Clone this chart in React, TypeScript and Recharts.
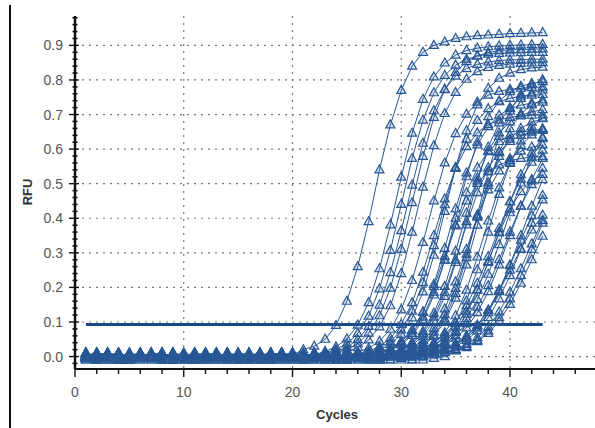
import { LineChart, Line, XAxis, YAxis, CartesianGrid } from 'recharts';

// amplification run: RFU per cycle, one array per well (cycle 1..43)
const CYCLES = [
  1, 2, 3, 4, 5, 6, 7, 8, 9, 10, 11, 12, 13, 14, 15, 16, 17, 18, 19, 20, 21, 22,
  23, 24, 25, 26, 27, 28, 29, 30, 31, 32, 33, 34, 35, 36, 37, 38, 39, 40, 41, 42, 43,
];

const THRESHOLD = 0.093;

const W1 = [0, -0.01, 0.005, 0, -0.005, 0.01, 0, -0.01, 0.005, 0, 0.01, -0.005, 0, 0.005, -0.01, 0, 0.01, 0, -0.005, 0.005,
  0.02, 0.03, 0.05, 0.09, 0.16, 0.26, 0.39, 0.54, 0.67, 0.77, 0.84, 0.88, 0.9, 0.91, 0.92, 0.925, 0.928, 0.93, 0.932, 0.934, 0.935, 0.936, 0.937];
const W2 = [-0.005, 0.005, 0, -0.01, 0.01, 0, -0.005, 0.005, -0.01, 0, 0.01, 0, -0.005, 0.005, 0, -0.01, 0.005, 0, 0.01, -0.005, 0, 0.005,
  0.015, 0.028, 0.051, 0.091, 0.156, 0.254, 0.381, 0.519, 0.646, 0.744, 0.809, 0.849, 0.872, 0.885, 0.892, 0.896, 0.898, 0.9, 0.901, 0.902, 0.903];
const W3 = [0.005, 0, -0.01, 0.005, 0, 0.01, -0.005, 0, 0.005, -0.01, 0, 0.01, -0.005, 0.005, 0, -0.01, 0, 0.005, -0.005, 0.01, 0, -0.01, 0.005,
  0.011, 0.02, 0.037, 0.067, 0.117, 0.196, 0.307, 0.44, 0.573, 0.684, 0.763, 0.813, 0.843, 0.86, 0.869, 0.875, 0.877, 0.878, 0.879, 0.88, 0.88];
const W4 = [-0.01, 0, 0.005, 0.01, -0.005, 0, 0.005, -0.01, 0, 0.01, 0, -0.005, 0.005, -0.01, 0.01, 0, -0.005, 0, 0.005, -0.01, 0.005, 0, 0.01,
  0.015, 0.027, 0.049, 0.087, 0.149, 0.243, 0.364, 0.496, 0.617, 0.711, 0.773, 0.811, 0.833, 0.845, 0.852, 0.856, 0.858, 0.859, 0.86, 0.86];
const W5 = [0, 0.005, -0.005, 0, 0.01, -0.01, 0.005, 0, -0.005, 0.01, 0, -0.01, 0.005, 0, 0.01, -0.005, 0, -0.01, 0.005, 0.01, 0, -0.005, 0.005, 0,
  0.011, 0.02, 0.037, 0.068, 0.118, 0.198, 0.311, 0.445, 0.579, 0.692, 0.772, 0.822, 0.853, 0.87, 0.879, 0.885, 0.887, 0.888, 0.889, 0.89];
const W6 = [0.01, -0.005, 0, 0.005, -0.01, 0, 0.01, -0.005, 0.005, 0, -0.01, 0.005, 0, 0.01, -0.005, 0, 0.005, -0.01, 0, 0.01, -0.005, 0.005, 0, -0.01,
  0.014, 0.026, 0.048, 0.086, 0.147, 0.24, 0.36, 0.49, 0.61, 0.703, 0.764, 0.802, 0.824, 0.836, 0.842, 0.846, 0.848, 0.849, 0.85];
const W7 = [-0.005, 0.01, 0, -0.01, 0.005, 0, -0.005, 0.01, 0, 0.005, -0.01, 0, 0.005, -0.005, 0.01, 0, -0.01, 0.005, 0, -0.005, 0.01, 0, 0.005, -0.01, 0,
  0.013, 0.024, 0.044, 0.079, 0.135, 0.22, 0.33, 0.45, 0.56, 0.645, 0.701, 0.736, 0.756, 0.767, 0.773, 0.776, 0.778, 0.78];
const W8 = [0, -0.005, 0.01, 0, -0.01, 0.005, 0, 0.01, -0.005, 0, 0.005, -0.01, 0.01, 0, -0.005, 0.005, 0, -0.01, 0.01, 0, 0.005, -0.005, 0, 0.01, -0.01, 0.005,
  0.013, 0.024, 0.043, 0.077, 0.131, 0.214, 0.321, 0.439, 0.546, 0.629, 0.683, 0.717, 0.737, 0.747, 0.753, 0.756, 0.758];
const W9 = [0.005, 0, -0.01, 0.01, 0, -0.005, 0.005, 0, -0.01, 0.01, -0.005, 0, 0.005, 0, -0.01, 0.005, 0.01, 0, -0.005, 0, 0.01, -0.01, 0.005, 0, -0.005, 0.01, 0,
  0.01, 0.019, 0.035, 0.064, 0.112, 0.187, 0.293, 0.42, 0.547, 0.653, 0.728, 0.776, 0.805, 0.82, 0.83, 0.835, 0.837];
const W10 = [-0.01, 0.005, 0, 0.01, -0.005, 0, 0.005, -0.01, 0, 0.01, 0, -0.005, 0.005, -0.01, 0, 0.01, -0.005, 0.005, 0, -0.01, 0.01, 0, -0.005, 0.005, 0, -0.01, 0.005, 0.01,
  0.013, 0.023, 0.042, 0.075, 0.128, 0.209, 0.313, 0.427, 0.531, 0.612, 0.665, 0.698, 0.717, 0.727, 0.733, 0.736];
const W11 = [0, 0.01, -0.005, 0, 0.005, -0.01, 0.01, 0, -0.005, 0.005, 0, -0.01, 0, 0.01, -0.005, 0.005, 0, -0.01, 0.005, 0.01, 0, -0.005, 0, 0.005, -0.01, 0.01, 0, -0.005, 0.005,
  0.01, 0.018, 0.034, 0.061, 0.106, 0.178, 0.279, 0.4, 0.52, 0.62, 0.694, 0.739, 0.766, 0.782, 0.79, 0.795];
const W12 = [0.005, -0.005, 0, 0.01, -0.01, 0, 0.005, 0, -0.005, 0.01, 0, -0.01, 0.005, 0, 0.01, -0.005, 0, 0.005, -0.01, 0, 0.01, 0.005, -0.005, 0, -0.01, 0.005, 0.01, 0, -0.005,
  0.012, 0.022, 0.041, 0.073, 0.125, 0.203, 0.305, 0.415, 0.517, 0.595, 0.647, 0.679, 0.698, 0.708, 0.714];
const W13 = [-0.005, 0, 0.01, -0.01, 0.005, 0, -0.005, 0.01, 0, 0.005, -0.01, 0, 0.01, -0.005, 0, 0.005, -0.01, 0.01, 0, -0.005, 0.005, 0, -0.01, 0.01, 0, 0.005, -0.005, 0, 0.01, -0.01,
  0.009, 0.018, 0.033, 0.059, 0.104, 0.174, 0.272, 0.39, 0.508, 0.606, 0.676, 0.72, 0.747, 0.762, 0.771];
const W14 = [0.01, 0, -0.005, 0.005, 0, -0.01, 0.01, -0.005, 0, 0.005, 0, -0.01, 0.005, 0.01, -0.005, 0, -0.01, 0.005, 0, 0.01, -0.005, 0.005, 0, -0.01, 0.01, 0, -0.005, 0.005, 0, -0.01,
  0.012, 0.022, 0.04, 0.071, 0.121, 0.197, 0.296, 0.404, 0.503, 0.579, 0.629, 0.66, 0.678, 0.688];
const W15 = [0, -0.01, 0.005, 0.01, 0, -0.005, 0, 0.005, -0.01, 0.01, 0, -0.005, 0.005, 0, -0.01, 0.01, 0.005, -0.005, 0, 0.01, -0.01, 0, 0.005, -0.005, 0.01, 0, -0.01, 0.005, 0, -0.005, 0.01,
  0.009, 0.017, 0.032, 0.058, 0.101, 0.169, 0.265, 0.38, 0.495, 0.59, 0.659, 0.702, 0.728, 0.742];
const W16 = [0.005, 0.01, -0.01, 0, 0.005, -0.005, 0.01, 0, -0.01, 0.005, 0, 0.01, -0.005, 0, 0.005, -0.01, 0, 0.01, -0.005, 0.005, 0, -0.01, 0.01, 0, -0.005, 0.005, 0, -0.01, 0.01, 0.005, 0,
  0.012, 0.021, 0.039, 0.069, 0.118, 0.192, 0.288, 0.392, 0.488, 0.562, 0.611, 0.641, 0.659];
const W17 = [-0.01, 0, 0.005, -0.005, 0.01, 0, -0.01, 0.005, 0, 0.01, -0.005, 0, 0.005, -0.01, 0.01, 0, -0.005, 0.005, 0, -0.01, 0.01, 0.005, 0, -0.005, 0, 0.01, -0.01, 0.005, 0, -0.005, 0.01, 0,
  0.009, 0.017, 0.03, 0.055, 0.096, 0.161, 0.251, 0.36, 0.469, 0.559, 0.624, 0.665, 0.69];
const W18 = [0, 0.005, 0.01, -0.01, 0, -0.005, 0.005, 0.01, 0, -0.01, 0.005, -0.005, 0, 0.01, 0, -0.01, 0.005, 0, 0.01, -0.005, 0, 0.005, -0.01, 0.01, 0, -0.005, 0.005, 0, -0.01, 0.01, 0, 0.005,
  0.015, 0.024, 0.04, 0.063, 0.098, 0.147, 0.212, 0.289, 0.371, 0.448, 0.513, 0.562, 0.597];
const W19 = [0.01, -0.005, 0, 0.005, -0.01, 0.01, 0, -0.005, 0.005, 0, -0.01, 0.01, 0.005, 0, -0.005, 0, 0.01, -0.01, 0.005, 0, -0.005, 0.01, 0, -0.01, 0.005, 0, 0.01, -0.005, 0, 0.005, -0.01, 0.01, 0,
  0.013, 0.021, 0.034, 0.055, 0.086, 0.131, 0.194, 0.272, 0.36, 0.448, 0.526, 0.589, 0.634];
const W20 = [-0.005, 0.005, 0, -0.01, 0.01, 0, 0.005, -0.005, 0, 0.01, -0.01, 0, 0.005, 0.01, -0.005, 0, -0.01, 0.005, 0, 0.01, -0.005, 0.005, -0.01, 0, 0.01, 0, -0.005, 0.005, 0.01, -0.01, 0, 0.005, 0,
  0.015, 0.024, 0.038, 0.061, 0.095, 0.143, 0.205, 0.28, 0.36, 0.435, 0.497, 0.545];
const W21 = [0, 0.01, -0.01, 0.005, 0, -0.005, 0.01, 0, -0.01, 0.005, 0.01, -0.005, 0, 0.005, -0.01, 0, 0.01, 0, -0.005, 0.005, -0.01, 0.01, 0, 0.005, -0.005, 0, 0.01, -0.01, 0.005, 0, -0.005, 0.01, 0, 0.005,
  0.013, 0.02, 0.033, 0.053, 0.083, 0.127, 0.188, 0.265, 0.35, 0.435, 0.512, 0.573];
const W22 = [0.005, -0.01, 0, 0.01, -0.005, 0.005, 0, -0.01, 0.01, 0, -0.005, 0.005, 0, 0.01, -0.01, 0.005, 0, -0.005, 0.01, 0, -0.01, 0.005, 0, 0.01, -0.005, 0, 0.005, -0.01, 0.01, 0, 0.005, -0.005, 0.01, 0,
  0.014, 0.022, 0.036, 0.057, 0.089, 0.134, 0.193, 0.263, 0.337, 0.407, 0.466];
const W23 = [-0.01, 0.005, 0.01, 0, -0.005, 0, 0.01, -0.01, 0.005, 0, -0.005, 0.01, 0, 0.005, -0.01, 0, 0.01, -0.005, 0.005, 0, -0.01, 0.01, 0, -0.005, 0.005, 0.01, 0, -0.01, 0, 0.005, -0.005, 0.01, 0, -0.01, 0.005,
  0.011, 0.018, 0.029, 0.047, 0.074, 0.113, 0.167, 0.234, 0.31, 0.386, 0.453];
const W24 = [0.01, 0, -0.005, 0.005, -0.01, 0, 0.01, 0.005, -0.005, 0, -0.01, 0.01, 0, 0.005, -0.005, 0.01, -0.01, 0, 0.005, 0, -0.005, 0.01, 0, -0.01, 0.005, 0, 0.01, -0.005, 0, 0.005, -0.01, 0, 0.01,
  0.013, 0.021, 0.035, 0.055, 0.086, 0.129, 0.186, 0.254, 0.326, 0.394];
const W25 = [-0.005, 0.01, 0, -0.01, 0.005, 0, 0.01, -0.005, 0.005, -0.01, 0, 0.01, 0, -0.005, 0.005, 0, -0.01, 0.01, 0.005, 0, -0.005, 0, 0.01, -0.01, 0.005, 0, -0.005, 0.01, 0, 0.005, 0, -0.01, 0.005,
  0.011, 0.018, 0.029, 0.047, 0.074, 0.113, 0.167, 0.234, 0.31, 0.386];
const W26 = [0.005, 0, 0.01, -0.01, 0, 0.005, -0.005, 0.01, 0, -0.01, 0.005, 0, -0.005, 0.01, 0, 0.005, -0.01, 0.01, 0, -0.005, 0.005, 0, 0.01, -0.01, 0, 0.005, -0.005, 0, 0.01, -0.01, 0.005, 0, 0.01, -0.005, 0,
  0.016, 0.026, 0.043, 0.067, 0.102, 0.151, 0.212, 0.28, 0.348];
const W27 = [0, -0.005, 0.005, 0.01, -0.01, 0, 0.005, 0, -0.005, 0.01, -0.01, 0.005, 0, 0.01, 0, -0.005, 0.005, -0.01, 0, 0.01, 0.005, -0.005, 0, -0.01, 0.01, 0, 0.005, -0.005,
  0.007, 0.014, 0.026, 0.047, 0.082, 0.138, 0.216, 0.31, 0.404, 0.482, 0.537, 0.573, 0.594, 0.606, 0.612];
const W28 = [0.01, -0.01, 0.005, 0, -0.005, 0.01, 0, 0.005, -0.01, 0, 0.01, -0.005, 0.005, 0, -0.01, 0.01, 0, -0.005, 0.005, 0.01, -0.01, 0, 0.005, 0, -0.005, 0.01, -0.01, 0, 0.005, 0.01,
  0.007, 0.013, 0.023, 0.042, 0.073, 0.123, 0.192, 0.275, 0.358, 0.427, 0.477, 0.508, 0.527];
const W29 = [-0.005, 0, 0.01, 0.005, -0.01, 0, -0.005, 0.01, 0.005, 0, -0.01, 0.01, 0, -0.005, 0.005, 0, 0.01, -0.01, 0, 0.005, -0.005, 0.01, 0, -0.01, 0.005, 0, 0.01,
  0.007, 0.013, 0.024, 0.044, 0.077, 0.129, 0.202, 0.29, 0.378, 0.45, 0.501, 0.536, 0.554, 0.567, 0.573, 0.577, 0.578];
const W30 = [0, 0.005, -0.01, 0.01, 0, -0.005, 0.005, 0.01, -0.01, 0, 0.005, -0.005, 0.01, 0, -0.01, 0.005, 0, 0.01, -0.005, 0, 0.005, -0.01, 0.01, 0, -0.005, 0.005, 0, -0.01, 0.01, 0, 0.005,
  0.009, 0.015, 0.024, 0.038, 0.06, 0.091, 0.134, 0.189, 0.25, 0.311, 0.366, 0.409];
const W31 = [0.005, -0.01, 0, 0.01, -0.005, 0, 0.005, -0.01, 0.01, 0, -0.005, 0.005, 0, -0.01, 0.01, 0.005, 0, -0.005, 0.01, -0.01, 0, 0.005, -0.005, 0.01, 0,
  0.008, 0.016, 0.029, 0.053, 0.093, 0.156, 0.244, 0.35, 0.456, 0.544, 0.607, 0.647, 0.671, 0.684, 0.692, 0.696, 0.698, 0.699];
const W32 = [-0.01, 0.005, 0.01, 0, -0.005, 0.005, 0, -0.01, 0.01, -0.005, 0, 0.005, 0.01, -0.01, 0, -0.005, 0.005, 0, 0.01, -0.01, 0.005, 0, -0.005, 0.01, 0, -0.01, 0.005, 0,
  0.011, 0.02, 0.038, 0.067, 0.114, 0.186, 0.279, 0.381, 0.474, 0.546, 0.593, 0.622, 0.64, 0.649, 0.654];
const W33 = [0, 0.01, -0.005, -0.01, 0.005, 0, 0.01, -0.005, 0, 0.005, -0.01, 0.01, 0, -0.005, 0.005, -0.01, 0, 0.01, 0.005, -0.005, 0, -0.01, 0.01, 0.005, 0, -0.005, 0.01, -0.01, 0,
  0.01, 0.019, 0.034, 0.062, 0.109, 0.183, 0.286, 0.41, 0.534, 0.637, 0.71, 0.758, 0.786, 0.801];
const W34 = [0.01, 0, -0.01, 0.005, -0.005, 0.01, 0, 0.005, -0.01, 0, 0.01, -0.005, 0.005, 0, -0.01, 0.005, 0.01, -0.005, 0, 0.005, -0.01, 0.01, 0, -0.005, 0.005, 0, -0.01, 0.01, 0.005, -0.005, 0,
  0.017, 0.027, 0.044, 0.07, 0.11, 0.165, 0.238, 0.324, 0.416, 0.502, 0.575, 0.63];
const W35 = [-0.005, 0.005, 0.01, -0.01, 0, 0.005, -0.005, 0.01, 0, -0.01, 0.005, 0, 0.01, -0.005, 0.005, -0.01, 0, 0.01, 0, -0.005, 0.005, -0.01, 0.01, 0, -0.005, 0.005, 0,
  0.011, 0.02, 0.038, 0.067, 0.114, 0.186, 0.279, 0.381, 0.474, 0.546, 0.593, 0.622, 0.64, 0.649, 0.654, 0.657];
const W36 = [0.005, 0, -0.005, 0.01, -0.01, 0.005, 0, 0.01, -0.005, 0, -0.01, 0.005, 0.01, 0, -0.005, 0.005, -0.01, 0, 0.01, -0.005, 0.005, 0, -0.01, 0.01, 0, 0.005, -0.005, 0, 0.01, -0.01, 0.005, 0,
  0.013, 0.021, 0.033, 0.053, 0.083, 0.127, 0.188, 0.265, 0.35, 0.435, 0.512];

const WELLS = [W1, W2, W3, W4, W5, W6, W7, W8, W9, W10, W11, W12, W13, W14, W15, W16, W17, W18,
  W19, W20, W21, W22, W23, W24, W25, W26, W27, W28, W29, W30, W31, W32, W33, W34, W35, W36];

const X_TICKS = [0, 2, 4, 6, 8, 10, 12, 14, 16, 18, 20, 22, 24, 26, 28, 30, 32, 34, 36, 38, 40, 42, 44, 46, 48];
const X_GRID = [10, 20, 30, 40];
const Y_GRID = [0, 0.1, 0.2, 0.3, 0.4, 0.5, 0.6, 0.7, 0.8, 0.9];
const Y_TICKS = Array.from({ length: 51 }, (_, k) => Math.round((k - 1) * 2) / 100);

const BLUE = '#285896';
const FONT = '"Liberation Sans", Arial, sans-serif';

// plot box, in px
const LEFT = 75;
const TOP = 16;
const BOTTOM = 369;

// curves are stored right-aligned on cycle 43
const data = CYCLES.map((cycle, i) => {
  const row: Record<string, number | undefined> = { cycle, thr: THRESHOLD };
  WELLS.forEach((w, k) => {
    const j = w.length - CYCLES.length + i;
    row['w' + k] = j >= 0 ? w[j] : undefined;
  });
  return row;
});

function Tri(p: any) {
  const { cx, cy, index, dataKey } = p;
  const key = `${dataKey}-${index}`;
  if (cx == null || cy == null) return <g key={key} />;
  return (
    <polygon
      key={key}
      points={`${cx},${cy - 5} ${cx - 4.5},${cy + 3} ${cx + 4.5},${cy + 3}`}
      fill={BLUE}
      fillOpacity={0.14}
      stroke={BLUE}
      strokeWidth={1.2}
    />
  );
}

function YTick(p: any) {
  const v = p.payload.value;
  const y = p.y;
  const major = Math.abs(v * 10 - Math.round(v * 10)) < 1e-6 && v >= 0;
  if (!major) {
    return <line x1={LEFT - 2.5} x2={LEFT + 2.5} y1={y} y2={y} stroke="#111" strokeWidth={1.6} />;
  }
  return (
    <g>
      <line x1={LEFT - 6} x2={LEFT + 4} y1={y} y2={y} stroke="#111" strokeWidth={1.4} />
      <text x={63} y={y + 5} textAnchor="end" fontSize={14} fontFamily={FONT} fill="#555">
        {v.toFixed(1)}
      </text>
    </g>
  );
}

function XTick(p: any) {
  const v = p.payload.value;
  const x = p.x;
  const major = v % 10 === 0;
  return (
    <g>
      <line x1={x} x2={x} y1={BOTTOM} y2={BOTTOM + (major ? 8 : 5)} stroke="#111" strokeWidth={1.4} />
      {major && (
        <text x={x} y={397} textAnchor="middle" fontSize={14} fontFamily={FONT} fill="#555">
          {v}
        </text>
      )}
    </g>
  );
}

function TopTick(p: any) {
  const v = p.payload.value;
  const x = p.x;
  const major = v % 10 === 0;
  return <line x1={x} x2={x} y1={TOP} y2={TOP + (major ? 6 : 3.5)} stroke="#222" strokeWidth={1.3} />;
}

export default function App() {
  return (
    <div style={{ position: 'absolute', left: 0, top: 0, width: 595, height: 428, overflow: 'hidden', background: '#fff' }}>
      <div style={{ position: 'absolute', left: 9, top: 5, width: 2, height: 423, background: '#111' }} />
      <LineChart width={600} height={428} data={data} margin={{ top: TOP, right: 3, bottom: 0, left: 0 }}>
        <CartesianGrid
          horizontalValues={Y_GRID}
          verticalValues={X_GRID}
          stroke="#777"
          strokeDasharray="2 5"
          strokeWidth={1.2}
        />
        <XAxis
          xAxisId="top"
          orientation="top"
          type="number"
          domain={[0, 48]}
          allowDataOverflow
          ticks={X_TICKS}
          interval={0}
          height={0}
          tickLine={false}
          tick={<TopTick />}
          axisLine={{ stroke: '#222', strokeWidth: 2 }}
        />
        <XAxis
          dataKey="cycle"
          type="number"
          domain={[0, 48]}
          allowDataOverflow
          ticks={X_TICKS}
          interval={0}
          height={59}
          tickLine={false}
          tick={<XTick />}
          axisLine={{ stroke: '#111', strokeWidth: 2 }}
          label={{
            content: () => (
              <text x={337} y={419} textAnchor="middle" fontSize={13} fontWeight="bold" fontFamily={FONT} fill="#333">
                Cycles
              </text>
            ),
          }}
        />
        <YAxis
          type="number"
          domain={[-0.036, 0.985]}
          allowDataOverflow
          ticks={Y_TICKS}
          interval={0}
          width={75}
          tickLine={false}
          tick={<YTick />}
          axisLine={{ stroke: '#111', strokeWidth: 2.5 }}
          label={{
            content: () => (
              <text
                x={27}
                y={192}
                transform="rotate(-90 27 192)"
                textAnchor="middle"
                dominantBaseline="central"
                fontSize={13}
                fontWeight="bold"
                fontFamily={FONT}
                fill="#333"
              >
                RFU
              </text>
            ),
          }}
        />
        {WELLS.map((_, k) => (
          <Line
            key={k}
            dataKey={'w' + k}
            type="linear"
            stroke={BLUE}
            strokeWidth={1}
            dot={Tri}
            activeDot={false}
            connectNulls={false}
            isAnimationActive={false}
          />
        ))}
        <Line dataKey="thr" type="linear" stroke="#1b4a8a" strokeWidth={3} dot={false} activeDot={false} isAnimationActive={false} />
      </LineChart>
    </div>
  );
}
